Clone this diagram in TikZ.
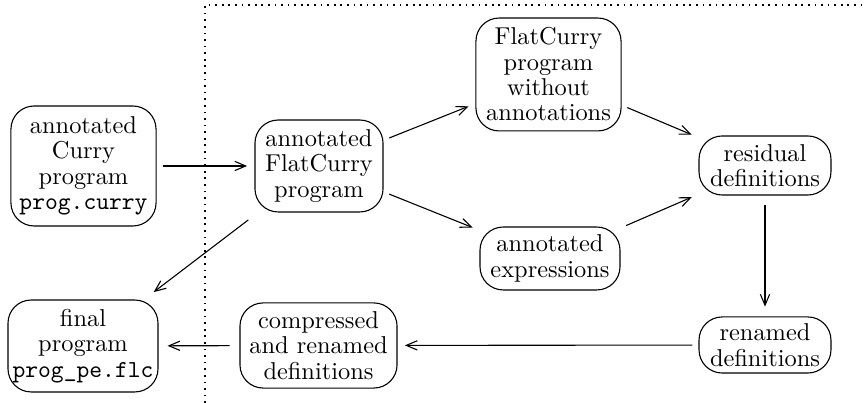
\documentclass[tikz,border=0pt]{standalone}
\usepackage{tikz}
\usetikzlibrary{arrows.meta}
\tikzset{
  box/.style={draw, rounded corners=9.5pt, align=center, inner sep=0pt, line width=0.45pt,
    font=\fontsize{10pt}{10.4pt}\selectfont},
  arr/.style={-{Straight Barb[length=4.5pt,width=3.8pt]}, line width=0.45pt,
    shorten >=3pt, shorten <=2.5pt},
  sep/.style={dotted, line width=0.7pt}
}

\begin{document}
\begin{tikzpicture}[x=0.41pt,y=0.41pt]
  \useasboundingbox (0,0) rectangle (864,403);

  % border of the partial evaluator
  \draw[sep] (205,0) -- (205,398) -- (864,398);

  \node[box, minimum width=59.5pt, minimum height=49.2pt] (src) at (83.5,237)
    {annotated\\Curry\\program\\\texttt{prog.curry}};
  \node[box, minimum width=52.5pt, minimum height=37.7pt] (fca) at (319,237)
    {annotated\\FlatCurry\\program};
  \node[box, minimum width=59.5pt, minimum height=46.3pt] (fcp) at (548.5,328.5)
    {FlatCurry\\program\\without\\annotations};
  \node[box, minimum width=57.4pt, minimum height=25.8pt] (aexp) at (550,144.5)
    {annotated\\expressions};
  \node[box, minimum width=54.1pt, minimum height=24.2pt] (resid) at (765,237.5)
    {residual\\definitions};
  \node[box, minimum width=54.1pt, minimum height=23pt] (ren) at (765,58)
    {renamed\\definitions};
  \node[box, minimum width=64.4pt, minimum height=34.9pt] (comp) at (318.5,57.5)
    {compressed\\and renamed\\definitions};
  \node[box, minimum width=61.5pt, minimum height=37.7pt] (final) at (83,57)
    {final\\program\\\texttt{prog\_pe.flc}};

  \draw[arr] (src) -- (fca);
  \draw[arr] (fca) -- (fcp);
  \draw[arr] (fca) -- (aexp);
  \draw[arr] (fcp) -- (resid);
  \draw[arr] (aexp) -- (resid);
  \draw[arr, shorten <=4pt, shorten >=4pt] (resid) -- (ren);
  \draw[arr] (ren) -- (comp);
  \draw[arr, shorten <=4pt, shorten >=3.7pt] (comp) -- (final);
  \draw[arr, shorten <=5pt, shorten >=5pt] (fca) -- (final);
\end{tikzpicture}
\end{document}
